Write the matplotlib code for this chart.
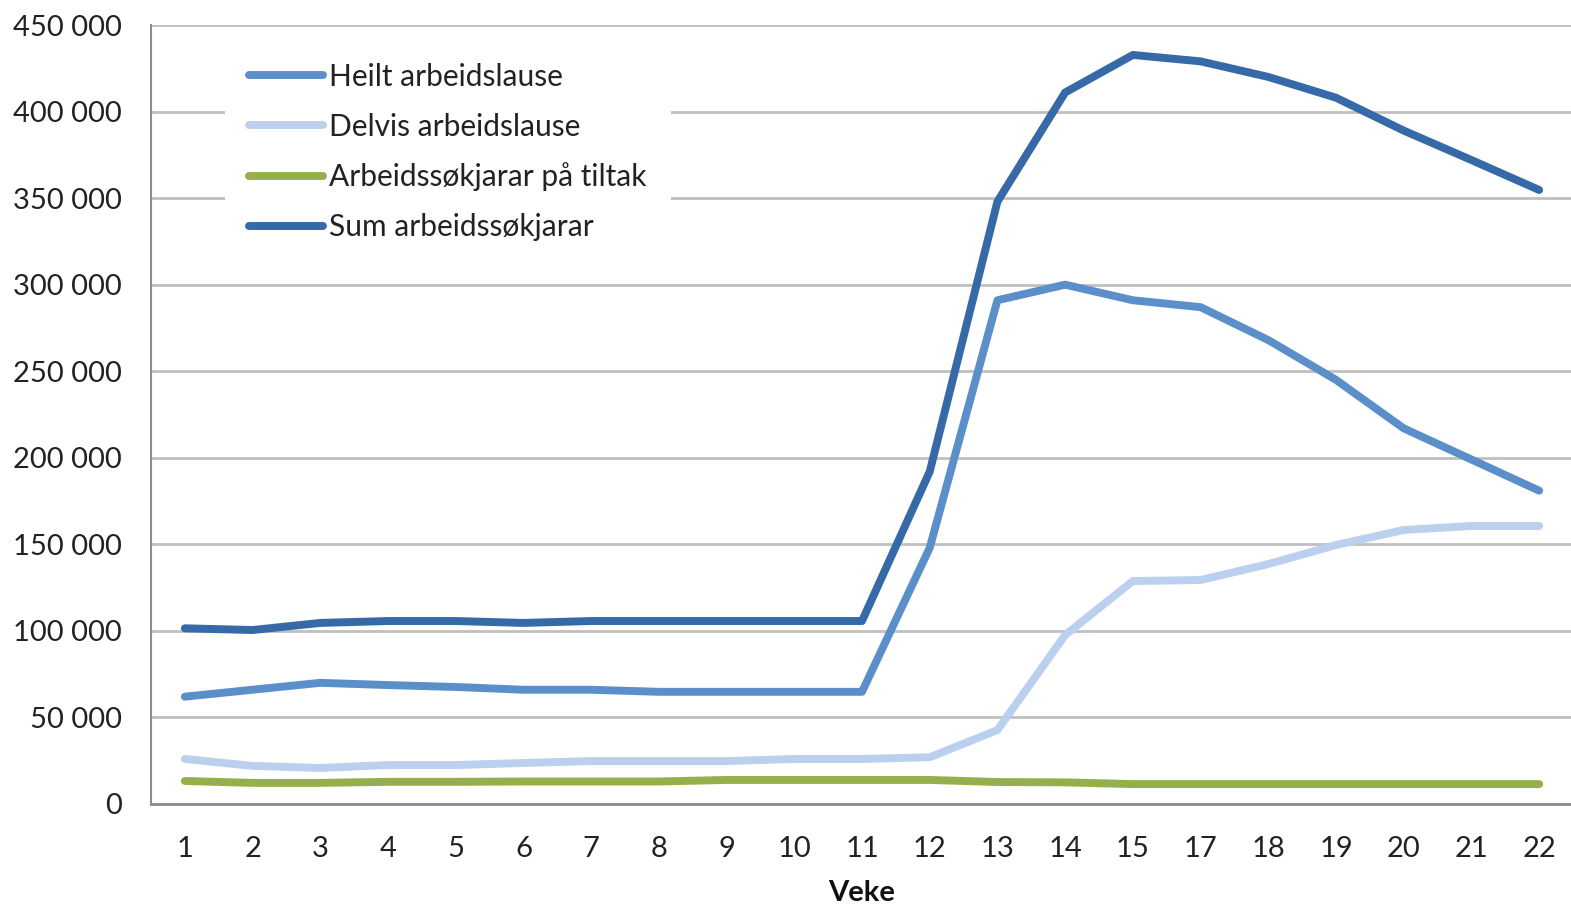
import matplotlib
matplotlib.use("Agg")
import matplotlib.pyplot as plt
from matplotlib.ticker import FuncFormatter, MultipleLocator

weeks = ["1", "2", "3", "4", "5", "6", "7", "8", "9", "10", "11", "12", "13", "14", "15", "17", "18", "19", "20", "21", "22"]
heilt = [62000, 66000, 70000, 68700, 67600, 66000, 66000, 64800, 64800, 64800, 64800, 148000, 291000, 300000, 291000, 287000, 268000, 245000, 217000, 199000, 181000]
delvis = [26000, 22000, 20800, 22500, 22500, 23700, 24800, 24800, 24800, 26000, 26000, 27000, 42700, 97600, 128800, 129400, 138600, 149600, 158300, 160600, 160600]
tiltak = [13300, 12200, 12200, 12800, 12800, 13000, 13000, 13000, 13900, 13900, 13900, 13900, 12700, 12500, 11500, 11500, 11500, 11500, 11500, 11500, 11500]
total = [101500, 100500, 104600, 105700, 105700, 104600, 105700, 105700, 105700, 105700, 105700, 192000, 348000, 411000, 432700, 429000, 420000, 408000, 389000, 372000, 354700]

labels = ["Heilt arbeidslause", "Delvis arbeidslause", "Arbeidssøkjarar på tiltak", "Sum arbeidssøkjarar"]
colors = ["#5B8FCA", "#BAD0EE", "#95B04B", "#3569A7"]

plt.rcParams['font.family'] = ['Lato', 'DejaVu Sans']

fig = plt.figure(figsize=(15.71, 9.08), dpi=100)
ax = fig.add_axes([151/1571, 1 - 804/908, (1573-151)/1571, (804-25)/908])

x = list(range(len(weeks)))
for series, lab, col in zip([heilt, delvis, tiltak, total], labels, colors):
    ax.plot(x, series, color=col, lw=5.7, label=lab, solid_capstyle='round', solid_joinstyle='round', zorder=3)

ax.set_xlim(-0.5, len(weeks) - 0.5)
ax.set_ylim(0, 450000)
ax.yaxis.set_major_locator(MultipleLocator(50000))
ax.yaxis.set_major_formatter(FuncFormatter(lambda v, p: f"{int(v):,}".replace(",", " ")))
ax.set_xticks(x)
ax.set_xticklabels(weeks)
ax.grid(axis='y', color='#C0C0C0', lw=2, zorder=0)
ax.set_axisbelow(True)

for s in ['top', 'right']:
    ax.spines[s].set_visible(False)
ax.spines['left'].set_color('#8C8C8C')
ax.spines['left'].set_linewidth(1.5)
ax.spines['bottom'].set_color('#8C8C8C')
ax.spines['bottom'].set_linewidth(2)

fs = 21
ax.tick_params(axis='both', length=0, labelsize=fs, colors='#222222')
ax.tick_params(axis='x', pad=23)
ax.tick_params(axis='y', pad=21)
ax.set_xlabel("Veke", fontsize=fs, fontweight='bold', labelpad=13, color='#111111')

leg = ax.legend(loc='upper left', bbox_to_anchor=(0.052, 0.982), fontsize=21.5, frameon=True,
                fancybox=False, edgecolor='white', framealpha=1, handlelength=2.5,
                handletextpad=0.2, labelspacing=0.73, borderpad=0.8, borderaxespad=0)
leg.get_frame().set_linewidth(0)
for t in leg.get_texts():
    t.set_color('#222222')

fig.savefig("out.png", dpi=100)
